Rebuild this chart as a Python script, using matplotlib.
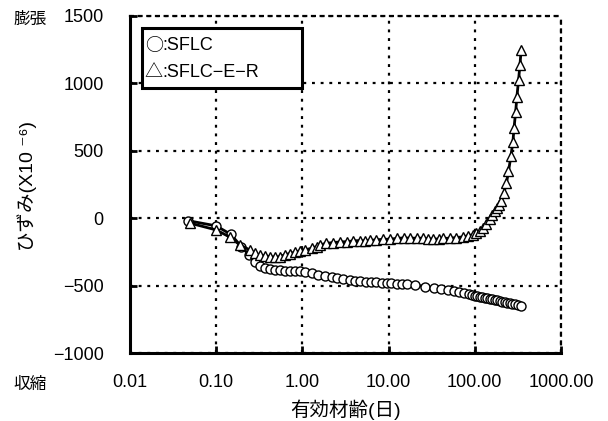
import numpy as np
import matplotlib
matplotlib.use("Agg")
import matplotlib.pyplot as plt
from matplotlib.patches import Rectangle

plt.rcParams["font.family"] = ["Liberation Sans", "Noto Sans CJK JP", "DejaVu Sans"]

# -----------------------------------
# Data
# -----------------------------------

# SFLC (circles)
sflc_age = [0.047, 0.10, 0.147, 0.196, 0.24, 0.28, 0.32, 0.37, 0.42, 0.48,
            0.55, 0.63, 0.72, 0.82, 0.94, 1.07, 1.28, 1.53, 1.83, 2.18,
            2.53, 2.98, 3.55, 4.05, 4.7, 5.5, 6.3, 7.2, 8.3, 9.5,
            10.8, 12.4, 14.2, 16.2, 20.3, 26.3, 34, 40.7, 48.6, 58,
            66, 75.6, 86.5, 93, 100, 107, 114, 122, 130, 139,
            149, 160, 171, 183, 195, 209, 223, 239, 255, 272,
            292, 315, 345]
sflc_strain = [-18, -57, -119, -210, -272, -326, -354, -371, -379, -384,
               -384, -389, -389, -391, -391, -396, -406, -421, -428, -438,
               -445, -453, -458, -463, -463, -470, -470, -475, -478, -482,
               -482, -487, -487, -490, -495, -507, -519, -527, -531, -539,
               -547, -556, -564, -569, -574, -577, -581, -585, -589, -594,
               -599, -602, -606, -610, -613, -618, -623, -627, -631, -634,
               -638, -642, -648]

# SFLC-E-R (triangles)
sflcer_age = [0.05, 0.10, 0.145, 0.19, 0.245, 0.28, 0.32, 0.37, 0.42, 0.48,
              0.55, 0.63, 0.72, 0.82, 0.94, 1.07, 1.28, 1.47, 1.6, 1.9,
              2.27, 2.7, 3.3, 3.9, 4.6, 5.3, 6.1, 7.2, 8.7, 10.3,
              12.4, 14.9, 17.9, 21.5, 25, 29, 33, 38, 43, 51,
              61, 73, 83, 95, 104, 114, 125, 136, 149, 160,
              171, 180, 190, 202, 217, 233, 246, 262, 277, 285,
              298, 308, 322, 334, 345]
sflcer_strain = [-37, -87, -141, -200, -235, -260, -272, -280, -285, -289,
                 -285, -270, -262, -252, -243, -235, -223, -210, -198, -186,
                 -181, -176, -174, -168, -166, -168, -164, -161, -156, -156,
                 -150, -146, -148, -148, -148, -152, -155, -154, -150, -148,
                 -144, -138, -131, -122, -110, -97, -74, -40, -5, 25,
                 55, 75, 100, 130, 186, 260, 347, 458, 569, 668,
                 791, 902, 1026, 1137, 1248]

x_ticks = [0.01, 0.1, 1, 10, 100, 1000]
x_tick_labels = ["0.01", "0.10", "1.00", "10.00", "100.00", "1000.00"]
y_ticks = [-1000, -500, 0, 500, 1000, 1500]
y_tick_labels = ["\u22121000", "\u2212500", "0", "500", "1000", "1500"]

# -----------------------------------
# Plot
# -----------------------------------

fig = plt.figure(figsize=(6.08, 4.21), dpi=100)
ax = fig.add_axes([0.2138, 0.1615, 0.7089, 0.8005])

ax.plot(sflc_age, sflc_strain, color="black", linewidth=2.0,
        marker="o", markersize=6.5, markerfacecolor="white",
        markeredgecolor="black", markeredgewidth=1.0, zorder=3)
ax.plot(sflcer_age, sflcer_strain, color="black", linewidth=2.0,
        marker="^", markersize=7, markerfacecolor="white",
        markeredgecolor="black", markeredgewidth=1.0, zorder=4)

ax.set_xscale("log")
ax.set_xlim(0.01, 1000)
ax.set_ylim(-1000, 1500)
ax.set_xticks(x_ticks)
ax.set_xticklabels(x_tick_labels)
ax.set_yticks(y_ticks)
ax.set_yticklabels(y_tick_labels)
ax.minorticks_off()

ax.tick_params(axis="both", direction="in", length=5, width=2, labelsize=13)
ax.tick_params(axis="x", pad=15)
ax.tick_params(axis="y", pad=19)

# dotted grid
dots = (0, (1.3, 2.6))
ax.grid(True, which="major", color="black", linestyle=dots, linewidth=1.6,
        dash_capstyle="butt")

for side in ["left", "bottom"]:
    ax.spines[side].set_linewidth(2.2)
for side in ["top", "right"]:
    ax.spines[side].set_linestyle(dots)
    ax.spines[side].set_linewidth(1.6)

# legend box drawn as text (symbol in CJK font, name in sans)
ax.add_patch(Rectangle((0.028, 0.786), 0.371, 0.178, transform=ax.transAxes,
                       facecolor="white", edgecolor="black", linewidth=2.2, zorder=5))
symbol_font = ["Noto Sans CJK JP", "DejaVu Sans"]
ax.text(0.034, 0.912, "○", transform=ax.transAxes, fontsize=13,
        va="center", ha="left", zorder=6, family=symbol_font)
ax.text(0.076, 0.912, ":SFLC", transform=ax.transAxes, fontsize=13,
        va="center", ha="left", zorder=6)
ax.text(0.034, 0.832, "△", transform=ax.transAxes, fontsize=13,
        va="center", ha="left", zorder=6, family=symbol_font)
ax.text(0.076, 0.832, ":SFLC\u2212E\u2212R", transform=ax.transAxes, fontsize=13,
        va="center", ha="left", zorder=6)

fig.text(30 / 608, 1 - 19 / 421, "膨張", fontsize=12, ha="center", va="center")
fig.text(30 / 608, 1 - 384 / 421, "収縮", fontsize=12, ha="center", va="center")

fig.text(27 / 608, 1 - 186 / 421, "ひずみ(X10 \u207b\u2076)", fontsize=14,
         rotation=90, ha="center", va="center")
fig.text(346 / 608, 1 - 410 / 421, "有効材齢(日)", fontsize=14,
         ha="center", va="center")

plt.savefig("out.png", dpi=100)
